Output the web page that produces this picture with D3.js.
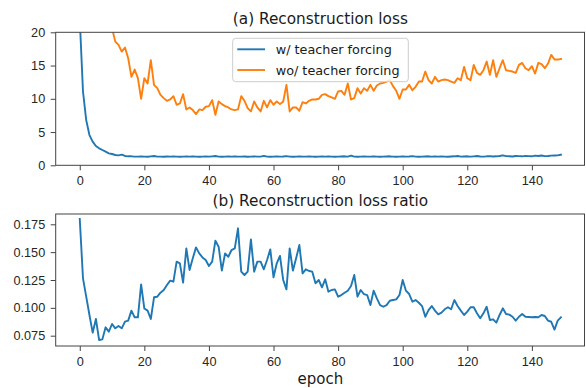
<!DOCTYPE html>
<html>
<head>
<meta charset="utf-8">
<script src="https://cdn.jsdelivr.net/npm/d3@7"></script>
<style>
    body { margin: 0; background: #fff; }
    svg { display: block; font-family: "DejaVu Sans", sans-serif; }
    .tick text { fill: #262626; }
</style>
</head>
<body>
<div id="chart"></div>
<script>
// values, one per epoch (0..149)
const lossWithTF = [
    22, 11.1, 6.8, 4.55, 3.55, 2.9, 2.55, 2.3, 2.05, 1.8,
    1.7, 1.55, 1.5, 1.6, 1.4, 1.35,
    1.35, 1.3, 1.3, 1.35, 1.3, 1.28, 1.35, 1.4, 1.3, 1.3, 1.28, 1.32, 1.3, 1.35,
    1.3, 1.28, 1.3, 1.32, 1.3, 1.35, 1.3, 1.28, 1.3, 1.32, 1.3, 1.35, 1.4, 1.3, 1.28, 1.3, 1.32, 1.3, 1.35, 1.3,
    1.3, 1.32, 1.28, 1.3, 1.35, 1.3, 1.3, 1.42, 1.3, 1.28, 1.3, 1.35, 1.3, 1.32, 1.38, 1.3, 1.28, 1.3, 1.35, 1.3,
    1.3, 1.32, 1.3, 1.28, 1.3, 1.32, 1.3, 1.35, 1.3, 1.28, 1.3, 1.32, 1.35, 1.3, 1.45, 1.3, 1.28, 1.3, 1.32, 1.3,
    1.3, 1.35, 1.3, 1.28, 1.3, 1.32, 1.35, 1.3, 1.28, 1.3, 1.35, 1.3, 1.32, 1.38, 1.3, 1.28, 1.3, 1.32, 1.35, 1.3,
    1.32, 1.3, 1.35, 1.3, 1.28, 1.32, 1.35, 1.4, 1.3, 1.32, 1.35, 1.3, 1.35, 1.4, 1.32, 1.3, 1.35, 1.38, 1.32, 1.35,
    1.4, 1.5, 1.38, 1.35, 1.32, 1.4, 1.38, 1.35, 1.42, 1.38, 1.35, 1.45, 1.4, 1.48, 1.38, 1.4, 1.45, 1.48, 1.5, 1.6
];

const lossWithoutTF = [
    48, 42, 37, 33, 30, 28, 26, 24.5, 23, 21.5,
    20.6, 18.6, 18.1, 17.1, 17.7, 16.1, 13.3, 14.4, 13.1, 10.0,
    13.1, 12.3, 15.8, 12.1, 11.6, 10.6, 10.1, 9.7, 9.9, 10.4,
    9.1, 9.3, 10.7, 8.4, 8.7, 8.3, 7.7, 8.4, 8.3, 8.8,
    8.9, 9.8, 7.6, 9.6, 9.2, 8.9, 8.7, 8.4, 8.3, 8.4,
    10.4, 9.7, 8.6, 8.1, 9.6, 8.7, 8.1, 9.7, 8.7, 9.8,
    9.1, 9.6, 9.2, 9.6, 12.1, 8.1, 8.7, 8.7, 8.2, 9.5,
    9.3, 9.7, 9.9, 9.9, 10.0, 10.6, 10.7, 10.4, 10.2, 10.0,
    11.1, 11.2, 10.6, 12.3, 9.9, 10.1, 11.6, 10.8, 11.6, 11.2,
    12.1, 11.2, 12.0, 12.3, 12.4, 12.6, 12.8, 11.9, 11.2, 10.0,
    11.4, 11.4, 12.1, 11.3, 11.8, 12.6, 12.6, 14.1, 12.8, 12.3,
    13.3, 12.6, 12.8, 12.9, 12.8, 12.6, 12.4, 13.1, 12.8, 14.8,
    13.1, 12.8, 15.1, 13.9, 13.6, 14.3, 15.6, 13.6, 15.8, 13.3,
    14.6, 15.8, 14.3, 14.2, 14.1, 13.9, 15.1, 15.4, 14.6, 14.3,
    14.9, 13.8, 15.4, 15.2, 14.6, 15.3, 16.6, 15.9, 15.9, 16.0
];

const lossRatio = [
    0.1798, 0.1265, 0.110, 0.0936, 0.0777, 0.090, 0.0711, 0.0717, 0.0825, 0.0786,
    0.0855, 0.0816, 0.0837, 0.0816, 0.0876, 0.0885, 0.0975, 0.0915, 0.0915, 0.1211,
    0.0994, 0.0975, 0.090, 0.1095, 0.110, 0.1136, 0.116, 0.1205, 0.1244, 0.1235,
    0.1415, 0.140, 0.1226, 0.1534, 0.134, 0.1445, 0.1543, 0.1489, 0.1453, 0.143,
    0.1376, 0.1415, 0.1603, 0.1549, 0.1334, 0.1489, 0.1459, 0.1519, 0.1534, 0.1714,
    0.1325, 0.1295, 0.1325, 0.1615, 0.1325, 0.1415, 0.1415, 0.1346, 0.143, 0.1525,
    0.1274, 0.140, 0.1466, 0.125, 0.1166, 0.1534, 0.1334, 0.1445, 0.1564, 0.131,
    0.1346, 0.1331, 0.1325, 0.122, 0.125, 0.1184, 0.1256, 0.1145, 0.116, 0.1166,
    0.110, 0.1115, 0.1136, 0.1154, 0.1196, 0.1295, 0.110, 0.116, 0.1124, 0.1115,
    0.1025, 0.1154, 0.1085, 0.1025, 0.101, 0.1025, 0.1064, 0.107, 0.1076, 0.1115,
    0.125, 0.1154, 0.1124, 0.1055, 0.107, 0.1046, 0.1016, 0.092, 0.098, 0.1016,
    0.0975, 0.0942, 0.0957, 0.0987, 0.1005, 0.0987, 0.107, 0.1016, 0.0975, 0.0936,
    0.0966, 0.1005, 0.1005, 0.0951, 0.0906, 0.0951, 0.101, 0.0891, 0.0897, 0.0867,
    0.0936, 0.0996, 0.0945, 0.0939, 0.092, 0.0885, 0.092, 0.0945, 0.092, 0.0918,
    0.0915, 0.0918, 0.0915, 0.0936, 0.0927, 0.0885, 0.0875, 0.0805, 0.0885, 0.0915
];

const epochs = d3.range(lossRatio.length);
const xTicks = [0, 20, 40, 60, 80, 100, 120, 140];
const yTicksLoss = [0, 5, 10, 15, 20];
const yTicksRatio = [0.075, 0.100, 0.125, 0.150, 0.175];
const seriesNames = ["w/ teacher forcing", "wo/ teacher forcing"];
const seriesColors = ["#1f77b4", "#ff7f0e"];

const width = 586, height = 388;
const left = 55.7, right = 585;

let svg = d3.select("#chart")
            .append("svg")
            .attr("width", width)
            .attr("height", height);

let x = d3.scaleLinear()
          .domain([-7.45, 156.45])
          .range([left, right]);

function drawPanel(top, bottom, y, ticks, fmt, title, id) {
    let g = svg.append("g").attr("class", id);

    g.append("clipPath")
     .attr("id", "clip-" + id)
     .append("rect")
     .attr("x", left)
     .attr("y", top)
     .attr("width", right - left)
     .attr("height", bottom - top);

    let xAxis = d3.axisBottom(x)
                  .tickValues(xTicks)
                  .tickSize(5)
                  .tickSizeOuter(0)
                  .tickPadding(5.5);
    let yAxis = d3.axisLeft(y)
                  .tickValues(ticks)
                  .tickFormat(fmt)
                  .tickSize(5)
                  .tickSizeOuter(0)
                  .tickPadding(5.5);

    g.append("g")
     .attr("transform", `translate(0, ${bottom})`)
     .call(xAxis);
    g.append("g")
     .attr("transform", `translate(${left}, 0)`)
     .call(yAxis);

    g.selectAll(".domain").remove();
    g.selectAll(".tick line").attr("stroke", "#444");
    g.selectAll(".tick text")
     .style("font-size", "12.7px");

    g.append("text")
     .attr("x", (left + right) / 2)
     .attr("y", top - 8.3)
     .attr("text-anchor", "middle")
     .style("font-size", "15.3px")
     .style("fill", "#1a1a1a")
     .text(title);

    return g;
}

function addLine(g, y, values, color, id) {
    let line = d3.line()
                 .x(function(d, i) { return x(epochs[i]); })
                 .y(function(d) { return y(d); });

    g.append("path")
     .datum(values)
     .attr("d", line)
     .attr("clip-path", "url(#clip-" + id + ")")
     .style("fill", "none")
     .style("stroke", color)
     .style("stroke-width", "1.9px")
     .style("stroke-linejoin", "round")
     .style("stroke-linecap", "square");
}

function drawFrame(g, top, bottom) {
    g.append("rect")
     .attr("x", left)
     .attr("y", top)
     .attr("width", right - left - 0.5)
     .attr("height", bottom - top)
     .style("fill", "none")
     .style("stroke", "#444")
     .style("stroke-width", "1px");
}

// (a) reconstruction loss
let topA = 32.3, bottomA = 165.3;
let yLoss = d3.scaleLinear()
              .domain([0, 20])
              .range([bottomA, topA]);
let panelA = drawPanel(topA, bottomA, yLoss, yTicksLoss, d3.format("d"), "(a) Reconstruction loss", "a");
addLine(panelA, yLoss, lossWithTF, seriesColors[0], "a");
addLine(panelA, yLoss, lossWithoutTF, seriesColors[1], "a");
drawFrame(panelA, topA, bottomA);

// legend
let legend = panelA.append("g").attr("class", "legend");
legend.append("rect")
      .attr("x", 232.7)
      .attr("y", 38.3)
      .attr("width", 175.6)
      .attr("height", 43.4)
      .attr("rx", 3)
      .style("fill", "#fff")
      .style("fill-opacity", 0.8)
      .style("stroke", "#ccc")
      .style("stroke-width", "1px");
seriesNames.forEach(function(name, i) {
    let ly = 49.3 + i * 20.7;
    legend.append("line")
          .attr("x1", 237.3)
          .attr("x2", 265)
          .attr("y1", ly)
          .attr("y2", ly)
          .style("stroke", seriesColors[i])
          .style("stroke-width", "1.9px");
    legend.append("text")
          .attr("x", 275.7)
          .attr("y", ly)
          .attr("dy", "0.36em")
          .style("font-size", "12.8px")
          .style("fill", "#1a1a1a")
          .text(name);
});

// (b) reconstruction loss ratio
let topB = 214, bottomB = 346;
let yRatio = d3.scaleLinear()
               .domain([0.06575, 0.18425])
               .range([bottomB, topB]);
let panelB = drawPanel(topB, bottomB, yRatio, yTicksRatio, d3.format(".3f"), "(b) Reconstruction loss ratio", "b");
addLine(panelB, yRatio, lossRatio, seriesColors[0], "b");
drawFrame(panelB, topB, bottomB);

svg.append("text")
   .attr("x", (left + right) / 2)
   .attr("y", 384)
   .attr("text-anchor", "middle")
   .style("font-size", "15px")
   .style("fill", "#1a1a1a")
   .text("epoch");
</script>
</body>
</html>
